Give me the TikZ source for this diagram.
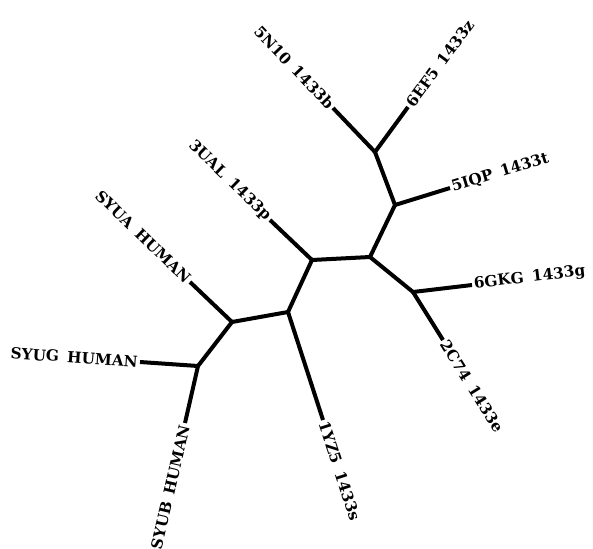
\documentclass[tikz,border=0pt]{standalone}
\usepackage{fontspec}
\setmainfont{DejaVu Serif}
\newcommand\widesp{\spaceskip=0.55em\relax}
\begin{document}
\begin{tikzpicture}[x=1pt,y=-1pt,
  branch/.style={line width=4pt,line join=round},
  lab/.style={font=\bfseries\fontsize{15.3}{16}\selectfont,inner sep=2pt,execute at begin node=\widesp}]
\useasboundingbox (0,0) rectangle (593,548);
% internal nodes
\coordinate (A) at (375,152);
\coordinate (B) at (395,205);
\coordinate (C) at (370,257);
\coordinate (D) at (312,260);
\coordinate (E) at (413,292);
\coordinate (F) at (288,312);
\coordinate (G) at (232,322);
\coordinate (H) at (198,366);
% leaf tips
\coordinate (t5n10) at (333,108);
\coordinate (t6ef5) at (408,107);
\coordinate (t5iqp) at (450,188);
\coordinate (t3ual) at (270,220);
\coordinate (tsyua) at (190,282);
\coordinate (tsyug) at (140,362);
\coordinate (tsyub) at (185,423);
\coordinate (t1yz5) at (323,420);
\coordinate (t6gkg) at (472,285);
\coordinate (t2c74) at (443,340);
% labels
\node[lab,anchor=east,rotate=-46.3] (l5n10) at (t5n10) {5N10 1433b};
\node[lab,anchor=west,rotate=53.7] (l6ef5) at (t6ef5) {6EF5 1433z};
\node[lab,anchor=west,rotate=17] (l5iqp) at (t5iqp) {5IQP 1433t};
\node[lab,anchor=east,rotate=-44] (l3ual) at (t3ual) {3UAL 1433p};
\node[lab,anchor=east,rotate=-44] (lsyua) at (tsyua) {SYUA HUMAN};
\node[lab,anchor=east,rotate=-4] (lsyug) at (tsyug) {SYUG HUMAN};
\node[lab,anchor=east,rotate=77] (lsyub) at (tsyub) {SYUB HUMAN};
\node[lab,anchor=west,rotate=-72] (l1yz5) at (t1yz5) {1YZ5 1433s};
\node[lab,anchor=west,rotate=6.8] (l6gkg) at (t6gkg) {6GKG 1433g};
\node[lab,anchor=west,rotate=-58] (l2c74) at (t2c74) {2C74 1433e};
% branches
\draw[branch] (A) -- (B) -- (C) -- (D) -- (F) -- (G) -- (H);
\draw[branch] (C) -- (E);
\draw[branch] (A) -- (t5n10);
\draw[branch] (A) -- (t6ef5);
\draw[branch] (B) -- (t5iqp);
\draw[branch] (D) -- (t3ual);
\draw[branch] (G) -- (tsyua);
\draw[branch] (H) -- (tsyug);
\draw[branch] (H) -- (tsyub);
\draw[branch] (F) -- (t1yz5);
\draw[branch] (E) -- (t6gkg);
\draw[branch] (E) -- (t2c74);
\end{tikzpicture}
\end{document}
